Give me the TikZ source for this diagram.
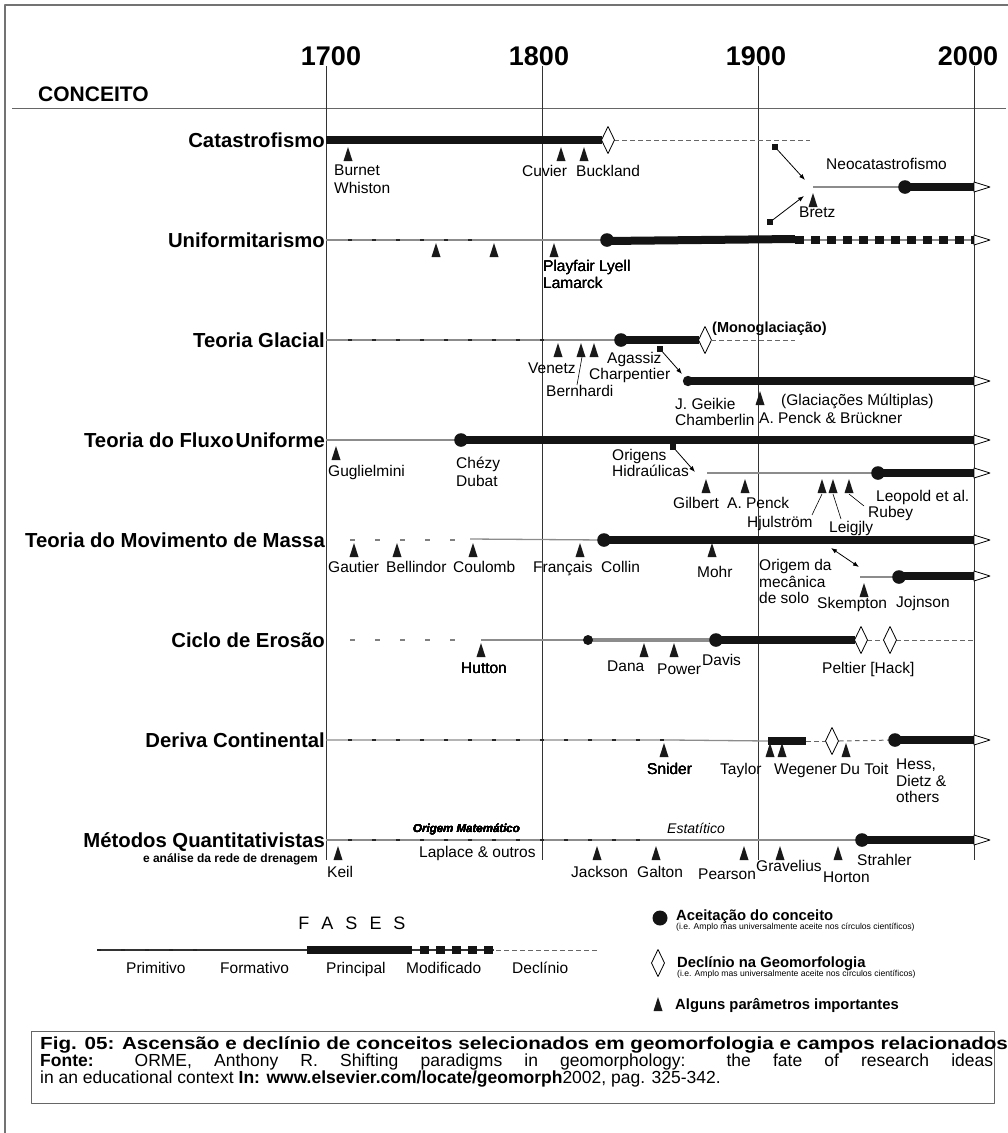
\documentclass[tikz,border=0pt]{standalone}
\usepackage{fontspec}
\setmainfont{Liberation Sans}
\newfontfamily\widefont[FakeStretch=1.18]{Liberation Sans}
\usetikzlibrary{arrows.meta}

% marcadores: triângulo, losango, ponto, ponta aberta, quadradinho
\newcommand\mtri[2]{\fill[black!90] (#1-4.5,#2+14) -- (#1,#2) -- (#1+4.5,#2+14) -- cycle;}
\newcommand\mdia[2]{\filldraw[fill=white, draw=black, line width=0.8pt] (#1-6.5,#2) -- (#1,#2-13.5) -- (#1+6.5,#2) -- (#1,#2+13.5) -- cycle;}
\newcommand\mdot[2]{\fill[black!92] (#1,#2) circle (6.8);}
\newcommand\mtip[1]{\filldraw[fill=white, draw=black, line width=0.8pt] (974,#1-5) -- (990,#1) -- (974,#1+5) -- cycle;}
\newcommand\msq[1]{\fill[black!92] (#1) ++(-2.6,-2.6) rectangle ++(5.2,5.2);}

\begin{document}
\begin{tikzpicture}[x=1pt, y=-1pt, line join=round,
  gridline/.style={line width=0.8pt, black!80},
  fbar/.style={line width=8pt, black!92},
  fline/.style={line width=1.3pt, black!45},
  fprim/.style={line width=2pt, black!85, dash pattern=on 4pt off 20pt},
  fsparse/.style={line width=1.4pt, black!50, dash pattern=on 5pt off 20pt},
  fdecl/.style={line width=1pt, black!60, dash pattern=on 4.5pt off 3.5pt},
  fmod/.style={line width=8pt, black!92, dash pattern=on 9pt off 7pt},
  conn/.style={line width=0.8pt, -{Latex[length=6pt,width=4.5pt]}},
  lead/.style={line width=0.6pt},
  conc/.style={anchor=base east, inner sep=0pt, font=\bfseries\fontsize{20.3}{22}\selectfont},
  nm/.style={anchor=base west, inner sep=0pt, align=left, font=\fontsize{15.5}{17.5}\selectfont},
  yr/.style={anchor=base, inner sep=0pt, font=\bfseries\fontsize{27}{30}\selectfont},
  lg/.style={anchor=base west, inner sep=0pt, font=\bfseries\fontsize{14.8}{16}\selectfont},
  lgs/.style={anchor=base west, inner sep=0pt, font=\fontsize{8.6}{9}\selectfont},
  capt/.style={anchor=base west, inner sep=0pt, font=\fontsize{17.5}{19}\selectfont},
]

  % ── moldura, cabeçalho, anos ──
  \draw[line width=1.3pt, black!55] (1008,5) -- (5,5) -- (5,1133);
  \draw[line width=1pt, black!60] (12,108) -- (1006,108);
  \node[anchor=base west, inner sep=0pt, font=\bfseries\fontsize{21}{23}\selectfont] (conceito) at (38,101) {CONCEITO};
  \foreach \x in {326,542,758,974} \draw[gridline] (\x,66) -- (\x,860);
  \node[yr] (y1700) at (331,65) {1700};
  \node[yr] (y1800) at (539,65) {1800};
  \node[yr] (y1900) at (756,65) {1900};
  \node[yr] (y2000) at (968,65) {2000};

  % ── Catastrofismo / Neocatastrofismo ──
  \node[conc] (cat) at (325,147) {Catastrofismo};
  \draw[fbar] (326,140) -- (602,140);
  \draw[fdecl] (614,140) -- (810,140);
  \mdia{608}{140}
  \foreach \x in {348,561,584} \mtri{\x}{147}
  \draw[fline] (813,187) -- (905,187);
  \draw[fbar] (905,187) -- (974,187);
  \mdot{905}{187}
  \mtip{187}
  \mtri{813}{193}
  \coordinate (a1s) at (775,147); \coordinate (a1e) at (805,180);
  \coordinate (a2s) at (770,222); \coordinate (a2e) at (804,196);
  \draw[conn] (a1s) -- (a1e); \msq{a1s}
  \draw[conn] (a2s) -- (a2e); \msq{a2s}
  \node[nm] (burnet) at (334,193) {Burnet\\Whiston};
  \node[nm] (cuvier) at (522,176.5) {Cuvier};
  \node[nm] (buckland) at (576,176.5) {Buckland};
  \node[nm] (neocat) at (826,169.5) {Neocatastrofismo};
  \node[nm] (bretz) at (799,217.5) {Bretz};

  % ── Uniformitarismo ──
  \node[conc] (unif) at (325,247) {Uniformitarismo};
  \draw[fline] (326,240) -- (607,240);
  \draw[fprim] (348,240) -- (480,240);
  \draw[fline] (795,240) -- (974,240);
  \draw[fmod] (795,240) -- (974,240);
  \draw[fbar] (607,241) -- (795,239);
  \mdot{607}{240}
  \mtip{240}
  \foreach \x in {436,494,554} \mtri{\x}{243}
  \node[nm, font=\fontsize{15.5}{16.5}\selectfont] (playfair) at (543,288) {Playfair Lyell\\Lamarck};

  % ── Teoria Glacial ──
  \node[conc] (glac) at (325,347) {Teoria Glacial};
  \draw[fline] (326,340) -- (621,340);
  \draw[fprim] (348,340) -- (545,340);
  \draw[fbar] (621,340) -- (699,340);
  \mdot{621}{340}
  \mdia{705}{340}
  \draw[fdecl] (711,340) -- (795,340);
  \foreach \x in {558,581,594} \mtri{\x}{343}
  \draw[fbar] (688,381) -- (974,381);
  \fill[black!92] (688,381) circle (5.2);
  \mtip{381}
  \mtri{760}{391}
  \coordinate (a3s) at (660,349); \coordinate (a3e) at (682,374);
  \draw[conn] (a3s) -- (a3e); \msq{a3s}
  \node[anchor=base west, inner sep=0pt, font=\bfseries\fontsize{14.5}{16}\selectfont] (mono) at (712,332) {(Monoglaciação)};
  \node[nm] (venetz) at (528,373.5) {Venetz};
  \node[nm] (bernhardi) at (546,396.5) {Bernhardi};
  \coordinate (tbern) at (582,357);
  \draw[lead] (577,385) -- (tbern);
  \node[nm] (agassiz) at (607,363.5) {Agassiz};
  \node[nm] (charp) at (589,379.5) {Charpentier};
  \node[nm, font=\fontsize{15.5}{16}\selectfont] (geikie) at (675,425.5) {J. Geikie\\Chamberlin};
  \node[nm] (multi) at (781,405.5) {(Glaciações Múltiplas)};
  \node[nm] (penckb) at (759,423.5) {A. Penck \& Brückner};

  % ── Teoria do Fluxo Uniforme ──
  \node[conc] (fluxo) at (325,447) {Teoria do Fluxo\kern2pt Uniforme};
  \draw[fline] (326,440) -- (461,440);
  \draw[fbar] (461,440) -- (974,440);
  \mdot{461}{440}
  \mtip{440}
  \mtri{336}{446}
  \draw[fline] (707,473) -- (878,473);
  \draw[fbar] (878,473) -- (974,473);
  \mdot{878}{473}
  \mtip{473}
  \foreach \x in {706,745,822,833,849} \mtri{\x}{479}
  \coordinate (a4s) at (673,447); \coordinate (a4e) at (695,472);
  \draw[conn] (a4s) -- (a4e); \msq{a4s}
  \node[nm] (gugl) at (328,476.5) {Guglielmini};
  \node[nm] (chezy) at (456,486) {Chézy\\Dubat};
  \node[nm, font=\fontsize{15.5}{15.5}\selectfont] (origens) at (612,476) {Origens\\Hidraúlicas};
  \node[nm] (gilbert) at (673,508.5) {Gilbert};
  \node[nm] (apenck) at (727,508.5) {A. Penck};
  \node[nm] (hjul) at (747,527.5) {Hjulström};
  \node[nm] (leigjly) at (829,532.5) {Leigjly};
  \node[nm] (rubey) at (868,517) {Rubey};
  \node[nm] (leopold) at (876,501) {Leopold et al.};
  \coordinate (thj) at (822,494); \coordinate (tle) at (833,494); \coordinate (tru) at (849,494);
  \draw[lead] (812,515) -- (thj);
  \draw[lead] (841,519) -- (tle);
  \draw[lead] (864,506) -- (tru);

  % ── Teoria do Movimento de Massa ──
  \node[conc] (massa) at (325,547) {Teoria do Movimento de Massa};
  \draw[fsparse] (350,540) -- (455,540);
  \draw[fline] (470,539) -- (604,540);
  \draw[fbar] (604,540) -- (974,540);
  \mdot{604}{540}
  \mtip{540}
  \foreach \x in {354,397,473,580,712} \mtri{\x}{543}
  \draw[fline] (860,577) -- (899,577);
  \draw[fbar] (899,576) -- (974,576);
  \mdot{899}{577}
  \mtip{576}
  \mtri{864}{583}
  \coordinate (a5s) at (831,548); \coordinate (a5e) at (859,567);
  \draw[conn, {Latex[length=6pt,width=4.5pt]}-{Latex[length=6pt,width=4.5pt]}] (a5s) -- (a5e);
  \node[nm] (gautier) at (328,572.5) {Gautier};
  \node[nm] (bellindor) at (386,572.5) {Bellindor};
  \node[nm] (coulomb) at (453,572.5) {Coulomb};
  \node[nm] (francais) at (533,572.5) {Français};
  \node[nm] (collin) at (601,572.5) {Collin};
  \node[nm] (mohr) at (697,577.5) {Mohr};
  \node[nm, font=\fontsize{15.5}{16.5}\selectfont] (mecanica) at (759,603.5) {Origem da\\mecânica\\de solo};
  \node[nm] (skempton) at (817,608.5) {Skempton};
  \node[nm] (jojnson) at (896,607.5) {Jojnson};

  % ── Ciclo de Erosão ──
  \node[conc] (ciclo) at (325,647) {Ciclo de Erosão};
  \draw[fsparse] (350,640) -- (460,640);
  \draw[fline] (481,640) -- (588,640);
  \draw[line width=3.5pt, black!45] (588,640) -- (716,640);
  \draw[fbar] (716,640) -- (855,640);
  \fill[black!92] (588,640) circle (5);
  \mdot{716}{640}
  \draw[fdecl] (867,640) -- (884,640);
  \draw[fdecl] (896,640) -- (974,640);
  \mdia{861}{640}
  \mdia{890}{640}
  \foreach \x in {481,644,674} \mtri{\x}{643}
  \node[nm] (hutton) at (461,673.5) {Hutton};
  \node[nm] (dana) at (607,671.5) {Dana};
  \node[nm] (power) at (657,674.5) {Power};
  \node[nm] (davis) at (702,665.5) {Davis};
  \node[nm] (peltier) at (822,673.5) {Peltier [Hack]};

  % ── Deriva Continental ──
  \node[conc] (deriva) at (325,747) {Deriva Continental};
  \draw[fline] (326,740) -- (671,740) -- (768,741);
  \draw[fprim] (348,740) -- (671,740);
  \draw[fbar] (768,741) -- (806,741);
  \draw[fdecl] (806,741) -- (825,741);
  \mdia{832}{741}
  \draw[fdecl] (839,741) -- (895,740);
  \draw[fbar] (895,740) -- (974,740);
  \mdot{895}{740}
  \mtip{740}
  \foreach \x in {664,770,782,846} \mtri{\x}{743}
  \node[nm] (snider) at (647,774.5) {Snider};
  \node[nm] (taylor) at (720,774.5) {Taylor};
  \node[nm] (wegener) at (774,774.5) {Wegener};
  \node[nm] (dutoit) at (840,774.5) {Du Toit};
  \node[nm, font=\fontsize{15.5}{16.5}\selectfont] (hess) at (896,802.5) {Hess,\\Dietz \&\\others};

  % ── Métodos Quantitativistas ──
  \node[conc] (metodos) at (325,847) {Métodos Quantitativistas};
  \node[anchor=base east, inner sep=0pt, font=\bfseries\fontsize{12}{13}\selectfont] (drenagem) at (318,862) {e análise da rede de drenagem};
  \draw[fline] (326,840) -- (862,840);
  \draw[fprim] (348,840) -- (657,840);
  \draw[fbar] (862,840) -- (974,840);
  \mdot{862}{840}
  \mtip{840}
  \foreach \x in {338,597,656,744,780,838} \mtri{\x}{846}
  \node[anchor=base west, inner sep=0pt, font=\bfseries\itshape\fontsize{11.5}{12}\selectfont] (matem) at (413,832) {Origem Matemático};
  \node[anchor=base west, inner sep=0pt, font=\itshape\fontsize{14}{15}\selectfont] (estat) at (667,833) {Estatítico};
  \node[nm] (laplace) at (419,857.5) {Laplace \& outros};
  \node[nm] (keil) at (327,877.5) {Keil};
  \node[nm] (jackson) at (571,877.5) {Jackson};
  \node[nm] (galton) at (637,877.5) {Galton};
  \node[nm] (pearson) at (698,879.5) {Pearson};
  \node[nm] (gravelius) at (756,871.5) {Gravelius};
  \node[nm] (horton) at (823,882.5) {Horton};
  \node[nm] (strahler) at (857,865.5) {Strahler};

  % ── legenda: fases ──
  \node[anchor=base, inner sep=0pt, font=\fontsize{18}{20}\selectfont] (fases) at (352,929) {F\hspace{12pt}A\hspace{12pt}S\hspace{12pt}E\hspace{12pt}S};
  \draw[line width=1.2pt, black!80] (97,950) -- (494,950);
  \draw[fprim] (97,950) -- (206,950);
  \draw[fbar] (307,950) -- (412,950);
  \draw[fmod] (420,950) -- (494,950);
  \draw[fdecl] (496,950) -- (599,950);
  \node[nm] (primitivo) at (126,973.5) {Primitivo};
  \node[nm] (formativo) at (220,973.5) {Formativo};
  \node[nm] (principal) at (326,973.5) {Principal};
  \node[nm] (modificado) at (406,973.5) {Modificado};
  \node[nm] (declinio) at (512,973.5) {Declínio};

  % ── legenda: símbolos ──
  \fill[black!92] (660,918) circle (7.5);
  \node[lg] (aceit) at (676,920) {Aceitação do conceito};
  \node[lgs] (aceits) at (676,929) {(i.e. Amplo mas universalmente aceite nos círculos científicos)};
  \mdia{658}{963}
  \node[lg] (declgeo) at (677,967) {Declínio na Geomorfologia};
  \node[lgs] (declgeos) at (677,976) {(i.e. Amplo mas universalmente aceite nos círculos científicos)};
  \mtri{658}{997}
  \node[lg] (alguns) at (675,1009) {Alguns parâmetros importantes};

  % ── legenda da figura ──
  \draw[line width=1pt, black!60] (31,1031) rectangle (994,1103);
  \node[capt] (cap1) at (40,1049) {\widefont\bfseries Fig. 05: Ascensão e declínio de conceitos selecionados em geomorfologia e campos relacionados};
  \node[capt] (cap2) at (40,1066) {\makebox[953pt][s]{\textbf{Fonte:} ORME, Anthony R. Shifting paradigms in geomorphology: the fate of research ideas}};
  \node[capt] (cap3) at (40,1083) {in an educational context \textbf{In: www.elsevier.com/locate/geomorph}2002, pag. 325-342.};

  \pgfresetboundingbox
  \path[use as bounding box] (0,0) rectangle (1008,1133);
\end{tikzpicture}
\end{document}
